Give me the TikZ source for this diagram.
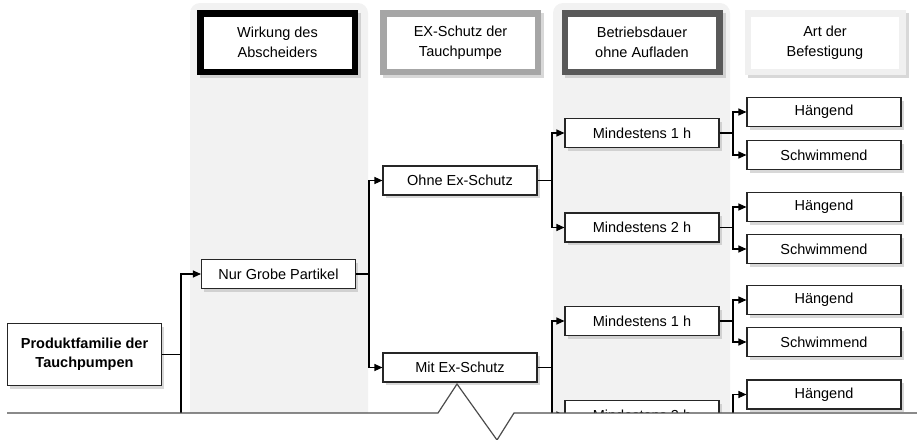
\documentclass[tikz,border=0pt]{standalone}
\usepackage{fontspec}
\setmainfont{Liberation Sans}
\usetikzlibrary{positioning, calc, shapes, arrows.meta, shadows}
\tikzstyle{Branch} = [
%arrow from a junction into the next box:
line width=1.1pt,
-{Triangle[length=8pt, width=7pt]}
]
\tikzstyle{Wire} = [line width=1.1pt]

\begin{document}
\begin{tikzpicture}[x=1pt, y=-1pt,
			option/.style = {rectangle, draw=black!85, line width=1.1pt, fill=white, text centered, minimum width=154pt, minimum height=29pt, inner sep=2pt, font=\fontsize{14.5}{19}\selectfont, drop shadow={shadow xshift=2.5pt, shadow yshift=-3pt, fill=black!30}},
			family/.style = {option, align=center, minimum height=62pt, font=\fontsize{14.5}{19}\selectfont\bfseries},
			header/.style = {rectangle, line width=6.5pt, fill=white, align=center, minimum width=154.5pt, minimum height=58.5pt, font=\fontsize{14.5}{20}\selectfont, drop shadow={shadow xshift=3pt, shadow yshift=-3pt, fill=black!30, draw=black!30, line width=6.5pt}},
			column/.style = {fill=black!5, rounded corners=10pt},
			cut/.style = {line width=1.2pt, draw=black!70},
		]

		\useasboundingbox (0,0) rectangle (917,439);

		% shaded columns
		\fill[column] (190,420) -- (190,3) -- (368,3) -- (368,420);
		\fill[column] (553,420) -- (553,3) -- (730,3) -- (730,420);

		% column heads
		\node[header, draw=black] (hWirkung) at (277.5,42.5) {Wirkung des\\Abscheiders};
		\node[header, draw=black!35] (hSchutz) at (460.5,42.5) {EX-Schutz der\\Tauchpumpe};
		\node[header, draw=black!65] (hDauer) at (642,42.5) {Betriebsdauer\\ohne Aufladen};
		\node[header, draw=black!6] (hArt) at (825,42.5) {Art der\\Befestigung};

		% tree
		\node[family] (fam) at (84.5,354.5) {Produktfamilie der\\Tauchpumpen};
		\node[option] (grob) at (278.5,274) {Nur Grobe Partikel};
		\node[option] (ohne) at (460,180.5) {Ohne Ex-Schutz};
		\node[option] (mit) at (460,367.5) {Mit Ex-Schutz};
		\node[option] (ohneA) at (642,133) {Mindestens 1 h};
		\node[option] (ohneB) at (642,227.5) {Mindestens 2 h};
		\node[option] (mitA) at (642,321) {Mindestens 1 h};
		\node[option] (mitB) at (642,415) {Mindestens 2 h};
		\node[option] (ohneAh) at (824,112) {Hängend};
		\node[option] (ohneAs) at (824,155) {Schwimmend};
		\node[option] (ohneBh) at (824,207) {Hängend};
		\node[option] (ohneBs) at (824,249) {Schwimmend};
		\node[option] (mitAh) at (824,300) {Hängend};
		\node[option] (mitAs) at (824,342) {Schwimmend};
		\node[option] (mitBh) at (824,394.5) {Hängend};

		% junctions
		\coordinate (j0) at (181,0);
		\coordinate (j1) at (369,0);
		\coordinate (j2) at (552,0);
		\coordinate (j3) at (733,0);
		\coordinate (famdown) at (181,440);

		\draw[Wire](fam.east) -| (famdown);
		\draw[Branch](j0 |- fam.east) |- (grob.west);

		\draw[Branch](grob.east) -| (j1 |- ohne.west) -- (ohne.west);
		\draw[Branch](grob.east) -| (j1 |- mit.west) -- (mit.west);

		\draw[Branch](ohne.east) -| (j2 |- ohneA.west) -- (ohneA.west);
		\draw[Branch](ohne.east) -| (j2 |- ohneB.west) -- (ohneB.west);
		\draw[Branch](mit.east) -| (j2 |- mitA.west) -- (mitA.west);
		\draw[Branch](mit.east) -| (j2 |- mitB.west) -- (mitB.west);

		\draw[Branch](ohneA.east) -| (j3 |- ohneAh.west) -- (ohneAh.west);
		\draw[Branch](ohneA.east) -| (j3 |- ohneAs.west) -- (ohneAs.west);
		\draw[Branch](ohneB.east) -| (j3 |- ohneBh.west) -- (ohneBh.west);
		\draw[Branch](ohneB.east) -| (j3 |- ohneBs.west) -- (ohneBs.west);
		\draw[Branch](mitA.east) -| (j3 |- mitAh.west) -- (mitAh.west);
		\draw[Branch](mitA.east) -| (j3 |- mitAs.west) -- (mitAs.west);
		\draw[Branch](mitB.east) -| (j3 |- mitBh.west) -- (mitBh.west);

		% cut-off edge
		\fill[white] (0,413) -- (438,413) -- (457,384) -- (497,440) -- (514,413) -- (917,413) -- (917,440) -- (0,440) -- cycle;
		\draw[cut] (7,413) -- (438,413) -- (457,384) -- (497,440) -- (514,413) -- (917,413);

	\end{tikzpicture}
\end{document}
